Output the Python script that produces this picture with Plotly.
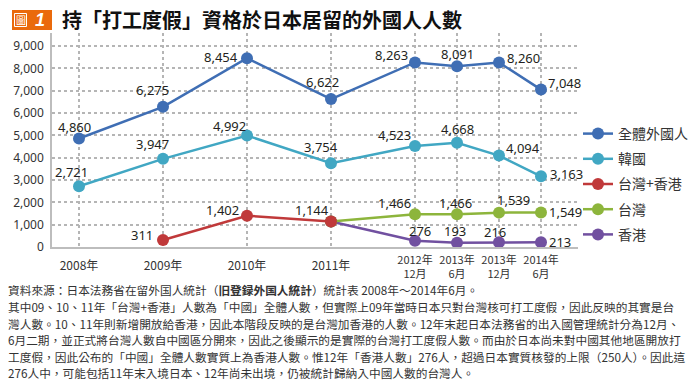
import plotly.graph_objects as go

# ---------------- data ----------------
x_pos = [0, 1, 2, 3, 4, 4.5, 5, 5.5]
single_ticks = ["2008年", "2009年", "2010年", "2011年"]
double_ticks = ["2012年<br>12月", "2013年<br>6月", "2013年<br>12月", "2014年<br>6月"]

all_foreign = [4860, 6275, 8454, 6622, 8263, 8091, 8260, 7048]
korea = [2721, 3947, 4992, 3754, 4523, 4668, 4094, 3163]
tw_hk = [None, 311, 1402, 1144, None, None, None, None]
taiwan = [None, None, None, 1144, 1466, 1466, 1539, 1549]
hongkong = [None, None, None, 1144, 276, 193, 216, 213]

series_names = ["全體外國人", "韓國", "台灣+香港", "台灣", "香港"]
colors = ["#3f6eb4", "#41a7c3", "#c0393a", "#8db53c", "#7150a0"]

title_text = "持「打工度假」資格於日本居留的外國人人數"
notes = [
    "資料來源：日本法務省在留外国人統計（<b>旧登録外国人統計</b>）統計表 2008年～2014年6月。",
    "其中09、10、11年「台灣+香港」人數為「中國」全體人數，但實際上09年當時日本只對台灣核可打工度假，因此反映的其實是台",
    "灣人數。10、11年則新增開放給香港，因此本階段反映的是台灣加香港的人數。12年末起日本法務省的出入國管理統計分為12月、",
    "6月二期，並正式將台灣人數自中國區分開來，因此之後顯示的是實際的台灣打工度假人數。而由於日本尚未對中國其他地區開放打",
    "工度假，因此公布的「中國」全體人數實質上為香港人數。惟12年「香港人數」276人，超過日本實質核發的上限（250人）。因此這",
    "276人中，可能包括11年末入境日本、12年尚未出境，仍被統計歸納入中國人數的台灣人。",
]

# ---------------- layout helpers ----------------
W, H = 700, 388
L, R, T, B = 52, 578, 33, 247


def px(x):
    return (x - L) / (R - L)


def py(y):
    return (B - y) / (B - T)


x_range = [(L - 79) / 84, (R - 79) / 84]
y_range = [0, (B - T) / (B - 46) * 9000]

# label offsets (pixels) per series per point: (dx, dy)
offsets = {
    0: [(-5, 11), (-11, 17), (-26, 1), (-9, 17), (-24, 7), (0, 12), (24, 5), (23, 7)],
    1: [(-8, 14), (-11, 15), (-18, 10), (-10, 16), (-21, 11), (0, 14), (24, 8), (25, 2)],
    2: [None, (-21, 5), (-25, 6), (-19, 11), None, None, None, None],
    3: [None, None, None, None, (-21, 11), (-2, 11), (14, 13), (24, 0)],
    4: [None, None, None, None, (5, 10), (-2, 12), (-4, 10), (19, 0)],
}

data_list = [all_foreign, korea, tw_hk, taiwan, hongkong]

fig = go.Figure()

# draw order: purple, green, red, teal, blue (red marker covers 2011 start point)
for idx in [4, 3, 2, 1, 0]:
    fig.add_trace(go.Scatter(
        x=x_pos, y=data_list[idx], name=series_names[idx],
        mode="lines+markers",
        line=dict(color=colors[idx], width=2.5),
        marker=dict(color=colors[idx], size=12),
        legendrank=idx + 1,
        legendgroup=series_names[idx],
        connectgaps=False,
        cliponaxis=False,
        hoverinfo="skip",
    ))

# dummy trace to activate xaxis2 (single-line tick labels)
fig.add_trace(go.Scatter(x=[x_pos[0]], y=[None], xaxis="x2", showlegend=False,
                         hoverinfo="skip", mode="markers"))

annotations = []
for idx, vals in enumerate(data_list):
    for i, v in enumerate(vals):
        off = offsets[idx][i]
        if v is None or off is None:
            continue
        annotations.append(dict(
            x=x_pos[i], y=v, xref="x", yref="y", text=f"{v:,}",
            showarrow=False, xanchor="center", yanchor="middle",
            xshift=off[0], yshift=off[1],
            font=dict(family="Noto Sans", size=13, color="#231f20"),
        ))

# title
annotations.append(dict(
    x=px(60), y=py(20), xref="paper", yref="paper", text=f"<b>{title_text}</b>",
    showarrow=False, xanchor="left", yanchor="middle",
    font=dict(family="Noto Sans CJK TC", size=20, color="#111"),
))
annotations.append(dict(
    x=px(20.5), y=py(20), xref="paper", yref="paper", text="圖",
    showarrow=False, xanchor="center", yanchor="middle",
    font=dict(family="Noto Sans CJK TC", size=10, color="white"),
))
annotations.append(dict(
    x=px(39.5), y=py(20), xref="paper", yref="paper", text="<b><i>1</i></b>",
    showarrow=False, xanchor="center", yanchor="middle",
    font=dict(family="Liberation Sans", size=18, color="white"),
))

# footnotes
note_y = [289, 306, 323, 339, 356, 372]
for txt, yy in zip(notes, note_y):
    annotations.append(dict(
        x=px(6), y=py(yy), xref="paper", yref="paper", text=txt,
        showarrow=False, xanchor="left", yanchor="middle",
        font=dict(family="Noto Sans CJK TC", size=11.7, color="#333"),
    ))

shapes = [
    dict(type="rect", xref="paper", yref="paper", x0=px(12), x1=px(52), y0=py(30), y1=py(10),
         fillcolor="#ea6a0c", line=dict(width=0), layer="above"),
    dict(type="rect", xref="paper", yref="paper", x0=px(14.5), x1=px(26.5), y0=py(26.5), y1=py(13.5),
         fillcolor="rgba(0,0,0,0)", line=dict(width=1, color="white"), layer="above"),
]

grid_color = "#b5b5b5"
fig.update_layout(
    width=W, height=H,
    margin=dict(l=L, r=W - R, t=T, b=H - B, pad=0, autoexpand=False),
    paper_bgcolor="white", plot_bgcolor="white",
    showlegend=True,
    legend=dict(
        x=px(578), xanchor="left", y=py(118), yanchor="top",
        font=dict(family="Noto Sans CJK TC", size=14, color="#333"),
        itemwidth=30, tracegroupgap=4, traceorder="grouped",
        bgcolor="rgba(0,0,0,0)", borderwidth=0,
    ),
    xaxis=dict(
        range=x_range, tickvals=x_pos, ticktext=[""] * 4 + double_ticks,
        showgrid=True, gridcolor=grid_color, griddash="dot", gridwidth=1.5,
        showline=True, linecolor="#bdbdbd", linewidth=1.5,
        zeroline=False, ticks="", ticklabelstandoff=2, automargin=False,
        tickfont=dict(family="Noto Sans CJK TC", size=11, color="#333"),
    ),
    xaxis2=dict(
        range=x_range, overlaying="x", side="bottom", anchor="y",
        tickvals=x_pos[:4], ticktext=single_ticks,
        showgrid=False, showline=False, zeroline=False, ticks="",
        ticklabelstandoff=10, automargin=False,
        tickfont=dict(family="Noto Sans CJK TC", size=12, color="#333"),
    ),
    yaxis=dict(
        range=y_range, tickvals=list(range(0, 10000, 1000)), tickformat=",",
        showgrid=True, gridcolor=grid_color, griddash="dot", gridwidth=1.5,
        showline=True, linecolor="#bdbdbd", linewidth=1.5,
        zeroline=False, ticks="", ticklabelstandoff=4, automargin=False,
        tickfont=dict(family="Noto Sans", size=12, color="#333"),
    ),
    annotations=annotations,
    shapes=shapes,
)

fig.write_html(
    "out.html",
    config={"displayModeBar": False},
    post_script="document.body.style.margin='0';document.body.style.overflow='hidden';",
)
